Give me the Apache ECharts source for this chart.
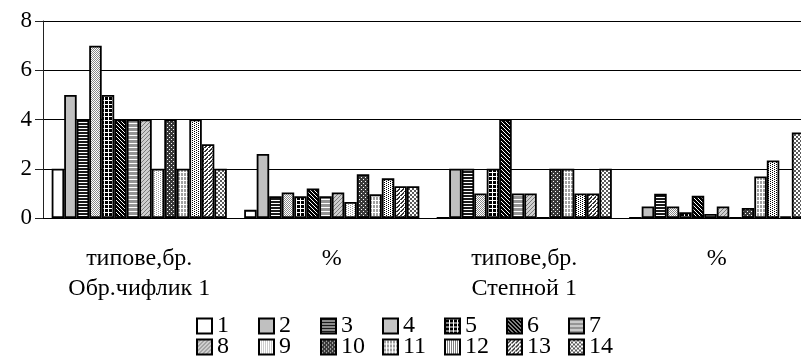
<!DOCTYPE html>
<html>
<head>
<meta charset="utf-8">
<script src="https://cdn.jsdelivr.net/npm/echarts@6/dist/echarts.min.js"></script>
<style>
  html, body { margin: 0; padding: 0; overflow: hidden; background: #fff; }
  #chart { width: 813px; height: 356px; }
</style>
</head>
<body>
<div id="chart"></div>
<script>
// Categories on the x axis and their group labels (second line)
const categories = ['типове,бр.', '%', 'типове,бр.', '%'];
const groups = ['Обр.чифлик 1', '', 'Степной 1', ''];

// Y axis ticks
const yTicks = [0, 2, 4, 6, 8];

// Series names and values (per category)
const seriesNames = ['1', '2', '3', '4', '5', '6', '7', '8', '9', '10', '11', '12', '13', '14'];
const s1  = [2, 0.33, 0, 0];
const s2  = [5, 2.6, 2, 0.47];
const s3  = [4, 0.88, 2, 0.98];
const s4  = [7, 1.04, 1, 0.47];
const s5  = [5, 0.88, 2, 0.23];
const s6  = [4, 1.2, 4, 0.9];
const s7  = [4, 0.88, 1, 0.16];
const s8  = [4, 1.04, 1, 0.47];
const s9  = [2, 0.65, 0, 0];
const s10 = [4, 1.78, 2, 0.41];
const s11 = [2, 0.96, 2, 1.69];
const s12 = [4, 1.61, 1, 2.34];
const s13 = [3, 1.29, 1, 0.07];
const s14 = [2, 1.29, 2, 3.47];
const seriesValues = [s1, s2, s3, s4, s5, s6, s7, s8, s9, s10, s11, s12, s13, s14];

// Build a repeating pixel pattern from rows of '#' (fg) and '.' (bg)
function pattern(rows, fg, bg) {
  const h = rows.length, w = rows[0].length;
  const c = document.createElement('canvas');
  c.width = w; c.height = h;
  const g = c.getContext('2d');
  g.fillStyle = bg; g.fillRect(0, 0, w, h);
  g.fillStyle = fg;
  for (let y = 0; y < h; y++) {
    for (let x = 0; x < w; x++) {
      if (rows[y][x] === '#') g.fillRect(x, y, 1, 1);
    }
  }
  return { image: c, repeat: 'repeat' };
}

const fills = [
  '#ffffff',
  '#c0c0c0',
  pattern(['#', '#', '.'], '#1a1a1a', '#ffffff'),
  pattern(['#.', '.#'], '#8a8a8a', '#ffffff'),
  pattern(['....', '.###', '.###', '.###'], '#000000', '#ffffff'),
  pattern(['.###', '#.##', '##.#', '###.'], '#000000', '#ffffff'),
  pattern(['#', '#', '#', '.'], '#959595', '#ffffff'),
  pattern(['...#', '..#.', '.#..', '#...'], '#7a7a7a', '#cfcfcf'),
  pattern(['#...', '..#.'], '#9a9a9a', '#ffffff'),
  pattern(['####', '#.##', '####', '###.'], '#3a3a3a', '#ffffff'),
  pattern(['...', '.##', '.##', '.##'], '#a0a0a0', '#ffffff'),
  pattern(['#...', '..#.'], '#000000', '#ffffff'),
  pattern(['...#', '..##', '.##.', '##..'], '#333333', '#ffffff'),
  pattern(['##..', '##..', '..##', '..##'], '#5a5a5a', '#ffffff')
];

const FONT = '"Liberation Serif", "Times New Roman", serif';

const series = seriesNames.map((name, i) => ({
  name: name,
  type: 'bar',
  data: seriesValues[i],
  barGap: 0,
  barCategoryGap: '9%',
  xAxisIndex: 0,
  itemStyle: { color: fills[i], borderColor: '#000', borderWidth: 1.8 },
  emphasis: { disabled: true }
}));

// One legend per entry so the entries sit on an even grid (2 rows x 7 columns)
const legends = seriesNames.map((name, i) => ({
  data: [name],
  left: 196 + (i % 7) * 62,
  top: 314 + Math.floor(i / 7) * 21,
  padding: 0,
  icon: 'rect',
  itemWidth: 15,
  itemHeight: 15,
  itemGap: 0,
  selectedMode: false,
  textStyle: { fontFamily: FONT, fontSize: 24, color: '#000' }
}));

const chart = echarts.init(document.getElementById('chart'), null, { renderer: 'canvas' });
chart.setOption({
  animation: false,
  backgroundColor: '#fff',
  legend: legends,
  grid: { left: 43, top: 21, width: 770, height: 197, containLabel: false },
  xAxis: [
    {
      type: 'category',
      data: categories,
      axisLine: { lineStyle: { color: '#000', width: 1 } },
      axisTick: { length: 9, lineStyle: { color: '#000' } },
      axisLabel: {
        margin: 26,
        interval: 0,
        formatter: (v, idx) => '{a|' + v + '}\n{b|' + (groups[idx] || ' ') + '}',
        rich: {
          a: { fontFamily: FONT, fontSize: 24, lineHeight: 30, color: '#000' },
          b: { fontFamily: FONT, fontSize: 24, lineHeight: 30, color: '#000' }
        }
      }
    },
    {
      type: 'category',
      data: categories,
      position: 'bottom',
      axisLine: { show: false },
      axisTick: { inside: true, length: 8, lineStyle: { color: '#000' } },
      axisLabel: { show: false }
    }
  ],
  yAxis: {
    type: 'value',
    min: yTicks[0],
    max: yTicks[yTicks.length - 1],
    interval: yTicks[1] - yTicks[0],
    axisLine: { show: true, lineStyle: { color: '#222', width: 1 } },
    axisTick: { show: true, length: 8, lineStyle: { color: '#222' } },
    axisLabel: { margin: 11, fontFamily: FONT, fontSize: 23, color: '#000' },
    splitLine: { lineStyle: { color: '#000', width: 1 } }
  },
  series: series
});
</script>
</body>
</html>
